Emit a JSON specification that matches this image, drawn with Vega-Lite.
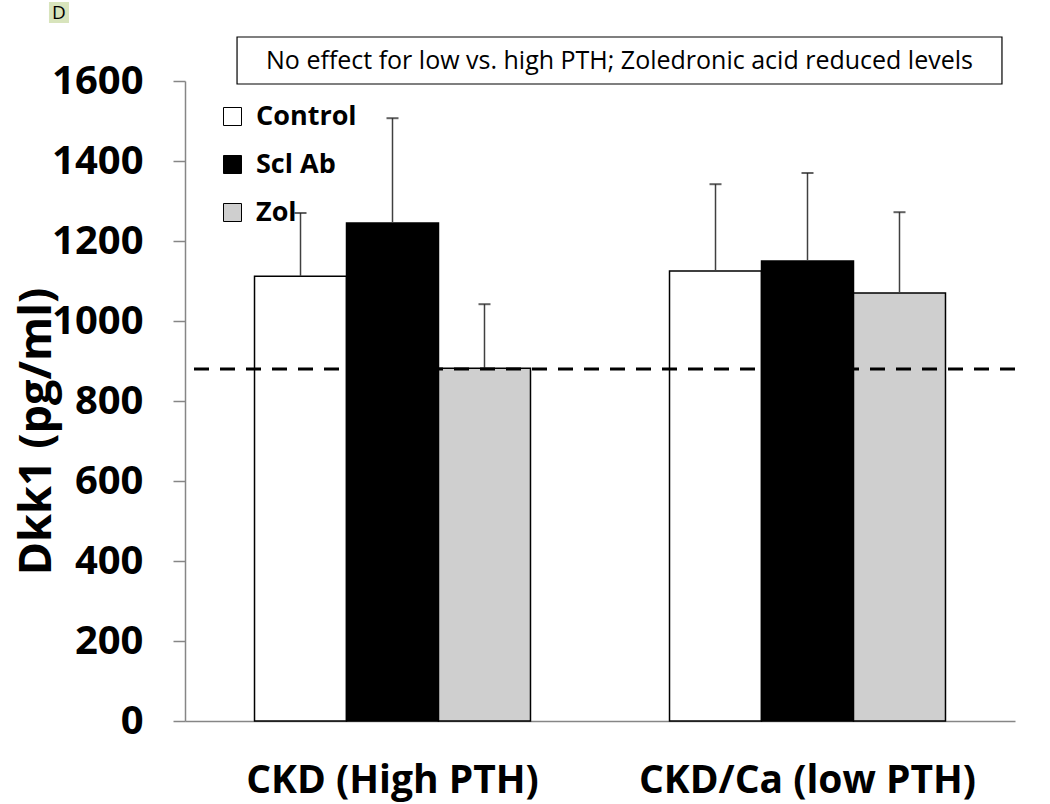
{
  "$schema": "https://vega.github.io/schema/vega-lite/v6.json",
  "width": 830,
  "height": 640,
  "autosize": {"type": "none"},
  "padding": {"left": 185, "top": 81, "right": 35, "bottom": 83},
  "background": "white",
  "config": {"view": {"stroke": null}, "font": "Open Sans"},
  "datasets": {
    "bars": [
      {"group": "CKD (High PTH)", "treatment": "Control", "mean": 1112, "upper": 1270},
      {"group": "CKD (High PTH)", "treatment": "Scl Ab", "mean": 1245, "upper": 1507},
      {"group": "CKD (High PTH)", "treatment": "Zol", "mean": 882, "upper": 1042},
      {"group": "CKD/Ca (low PTH)", "treatment": "Control", "mean": 1125, "upper": 1342},
      {"group": "CKD/Ca (low PTH)", "treatment": "Scl Ab", "mean": 1150, "upper": 1370},
      {"group": "CKD/Ca (low PTH)", "treatment": "Zol", "mean": 1070, "upper": 1272}
    ]
  },
  "layer": [
    {
      "data": {"name": "bars"},
      "layer": [
        {
          "mark": {"type": "bar", "stroke": "black", "strokeWidth": 1.5},
          "encoding": {
            "x": {
              "field": "group", "type": "nominal", "sort": null,
              "scale": {"paddingInner": 0.335, "paddingOuter": 0.1675},
              "axis": {
                "title": null, "labelAngle": 0, "ticks": false, "tickSize": 0,
                "domainColor": "#868686", "domainWidth": 1.5, "labelLimit": 0,
                "labelFont": "Open Sans", "labelFontWeight": "bold", "labelFontSize": 39,
                "labelColor": "black", "labelPadding": 40
              }
            },
            "xOffset": {
              "field": "treatment", "type": "nominal", "sort": ["Control", "Scl Ab", "Zol"],
              "scale": {"paddingInner": 0, "paddingOuter": 0}
            },
            "y": {
              "field": "mean", "type": "quantitative",
              "scale": {"domain": [0, 1600], "nice": false},
              "axis": {
                "title": "Dkk1 (pg/ml)", "values": [0, 200, 400, 600, 800, 1000, 1200, 1400, 1600],
                "format": "d",
                "grid": false, "tickSize": 12, "tickColor": "#868686", "tickWidth": 1.5,
                "domainColor": "#868686", "domainWidth": 1.5,
                "labelFont": "Open Sans", "labelFontWeight": "bold", "labelFontSize": 40,
                "labelColor": "black", "labelPadding": 30,
                "titleFont": "Open Sans", "titleFontWeight": "bold", "titleFontSize": 45,
                "titleColor": "black", "titleX": -135, "titleY": 350, "titleBaseline": "alphabetic",
                "titleLimit": 0
              }
            },
            "fill": {
              "field": "treatment", "type": "nominal", "sort": ["Control", "Scl Ab", "Zol"],
              "scale": {"domain": ["Control", "Scl Ab", "Zol"], "range": ["white", "black", "#cfcfcf"]},
              "legend": {
                "title": null, "orient": "none", "legendX": 34, "legendY": 22, "padding": 0,
                "symbolType": "square", "symbolSize": 324, "symbolStrokeColor": "black",
                "symbolStrokeWidth": 1, "labelFont": "Open Sans", "labelFontWeight": "bold",
                "labelFontSize": 27, "labelColor": "black", "labelOffset": 10, "rowPadding": 20
              }
            }
          }
        },
        {
          "mark": {"type": "rule", "color": "#404040", "strokeWidth": 1.5},
          "encoding": {
            "x": {"field": "group", "type": "nominal", "sort": null},
            "xOffset": {"field": "treatment", "type": "nominal", "sort": ["Control", "Scl Ab", "Zol"]},
            "y": {"field": "mean", "type": "quantitative"},
            "y2": {"field": "upper"}
          }
        },
        {
          "mark": {"type": "tick", "color": "#202020", "size": 12, "thickness": 2},
          "encoding": {
            "x": {"field": "group", "type": "nominal", "sort": null},
            "xOffset": {"field": "treatment", "type": "nominal", "sort": ["Control", "Scl Ab", "Zol"]},
            "y": {"field": "upper", "type": "quantitative"}
          }
        }
      ]
    },
    {
      "data": {"values": [{"ref": 880}]},
      "mark": {"type": "rule", "color": "black", "strokeWidth": 3, "strokeDash": [15, 11]},
      "encoding": {"y": {"field": "ref", "type": "quantitative"}}
    },
    {
      "data": {"values": [{"note": "No effect for low vs. high PTH; Zoledronic acid reduced levels", "panel": "D"}]},
      "layer": [
        {
          "mark": {"type": "rect", "fill": "white", "stroke": "black", "strokeWidth": 1.2, "clip": false},
          "encoding": {
            "x": {"datum": 0.0627, "type": "quantitative", "scale": {"domain": [0, 1]}, "axis": null},
            "x2": {"datum": 0.9843},
            "y": {"datum": 1710, "type": "quantitative"},
            "y2": {"datum": 1592.5}
          }
        },
        {
          "mark": {"type": "text", "font": "Open Sans", "fontSize": 25, "color": "black", "align": "center", "baseline": "middle", "clip": false},
          "encoding": {
            "x": {"datum": 0.5235, "type": "quantitative", "axis": null},
            "y": {"datum": 1651, "type": "quantitative"},
            "text": {"field": "note"}
          }
        },
        {
          "mark": {"type": "rect", "fill": "#d8e4bc", "clip": false},
          "encoding": {
            "x": {"datum": -0.1639, "type": "quantitative", "axis": null},
            "x2": {"datum": -0.1398},
            "y": {"datum": 1797.5, "type": "quantitative"},
            "y2": {"datum": 1745}
          }
        },
        {
          "mark": {"type": "text", "font": "Open Sans", "fontSize": 19, "color": "black", "align": "center", "baseline": "middle", "clip": false},
          "encoding": {
            "x": {"datum": -0.1518, "type": "quantitative", "axis": null},
            "y": {"datum": 1771, "type": "quantitative"},
            "text": {"field": "panel"}
          }
        }
      ]
    }
  ],
  "resolve": {"scale": {"x": "independent"}}
}
